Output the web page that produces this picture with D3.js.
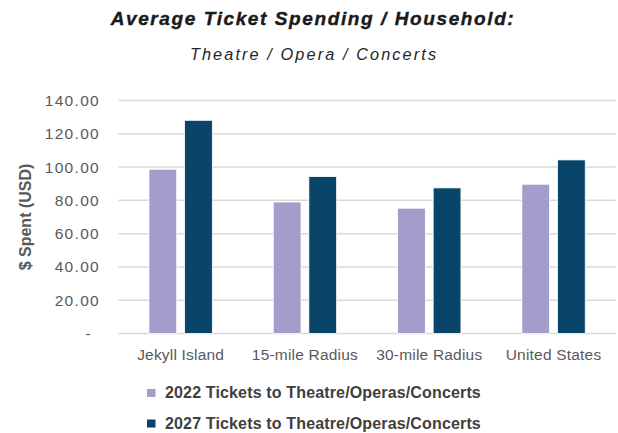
<!DOCTYPE html>
<html>
<head>
<meta charset="utf-8">
<script src="https://cdn.jsdelivr.net/npm/d3@7"></script>
<style>
  html, body { margin: 0; padding: 0; background: #fff; }
  svg { display: block; }
</style>
</head>
<body>
<svg id="chart" width="618" height="433"></svg>
<script>
// Categories, series and tick values
const categories = ["Jekyll Island", "15-mile Radius", "30-mile Radius", "United States"];
const seriesNames = ["2022 Tickets to Theatre/Operas/Concerts", "2027 Tickets to Theatre/Operas/Concerts"];
const values2022 = [98.7, 79.0, 75.3, 89.7];
const values2027 = [128.1, 94.3, 87.5, 104.3];
const yTicks = [0, 20, 40, 60, 80, 100, 120, 140];
const colors = ["#A39DCC", "#084569"];

const svg = d3.select("#chart");
const font = "'Liberation Sans', Arial, sans-serif";

const margin = { left: 118.5, right: 2.3, top: 100.5, bottom: 99.5 };
const W = 618, H = 433;

const x0 = d3.scaleBand()
  .domain(categories)
  .range([margin.left, W - margin.right])
  .paddingInner(0.49)
  .paddingOuter(0.245);

const x1 = d3.scaleBand()
  .domain([0, 1])
  .range([0, x0.bandwidth()])
  .paddingInner(0.22);

const y = d3.scaleLinear()
  .domain([0, 140])
  .range([H - margin.bottom, margin.top]);

// Titles
svg.append("text")
  .attr("x", 313).attr("y", 25)
  .attr("text-anchor", "middle")
  .attr("font-family", font)
  .attr("font-size", 19)
  .attr("font-weight", "bold")
  .attr("font-style", "italic")
  .attr("letter-spacing", 1.6)
  .attr("stroke", "#1a1a1a")
  .attr("stroke-width", 0.4)
  .attr("fill", "#1a1a1a")
  .text("Average Ticket Spending / Household:");

svg.append("text")
  .attr("x", 314).attr("y", 60)
  .attr("text-anchor", "middle")
  .attr("font-family", font)
  .attr("font-size", 16.3)
  .attr("font-style", "italic")
  .attr("letter-spacing", 2.1)
  .attr("fill", "#262626")
  .text("Theatre / Opera / Concerts");

// Gridlines
const grid = svg.append("g");
grid.selectAll("line")
  .data(yTicks)
  .join("line")
  .attr("x1", margin.left)
  .attr("x2", W - margin.right)
  .attr("y1", d => y(d))
  .attr("y2", d => y(d))
  .attr("stroke", "#D9D9D9")
  .attr("stroke-width", 1.5);

// Y axis labels
const yAxis = d3.axisLeft(y)
  .tickValues(yTicks)
  .tickSize(0)
  .tickPadding(0)
  .tickFormat(d => d === 0 ? "-" : d3.format(".2f")(d));

const yg = svg.append("g")
  .attr("transform", `translate(${100},0)`)
  .call(yAxis);
yg.select(".domain").remove();
yg.selectAll("text")
  .attr("font-family", font)
  .attr("font-size", 15.5)
  .attr("letter-spacing", 1.3)
  .attr("fill", "#595959");
yg.selectAll(".tick").filter(d => d === 0).select("text").attr("x", -8);

// Y axis title
svg.append("text")
  .attr("transform", `translate(31,${(y(0) + y(140)) / 2}) rotate(-90)`)
  .attr("text-anchor", "middle")
  .attr("font-family", font)
  .attr("font-size", 16)
  .attr("font-weight", "bold")
  .attr("fill", "#595959")
  .text("$ Spent (USD)");

// Bars
const rows = categories.map((c, i) => ({ cat: c, vals: [values2022[i], values2027[i]] }));
const groups = svg.append("g").selectAll("g")
  .data(rows)
  .join("g")
  .attr("transform", d => `translate(${x0(d.cat)},0)`);

groups.selectAll("rect")
  .data(d => d.vals.map((v, k) => ({ k, v })))
  .join("rect")
  .attr("x", d => x1(d.k))
  .attr("width", x1.bandwidth())
  .attr("y", d => y(d.v))
  .attr("height", d => y(0) - y(d.v))
  .attr("fill", d => colors[d.k])
  .attr("stroke", "#ffffff")
  .attr("stroke-width", 0.8);

// X axis labels
const xAxis = d3.axisBottom(x0).tickSize(0).tickPadding(0);
const xg = svg.append("g")
  .attr("transform", `translate(0,${y(0) + 15})`)
  .call(xAxis);
xg.select(".domain").remove();
xg.selectAll("text")
  .attr("font-family", font)
  .attr("font-size", 15.5)
  .attr("letter-spacing", 0.2)
  .attr("fill", "#595959");

// Legend
const legend = svg.append("g");
const legendRows = legend.selectAll("g")
  .data(seriesNames)
  .join("g")
  .attr("transform", (d, i) => `translate(147,${389 + i * 30.5})`);
legendRows.append("rect")
  .attr("width", 8.5).attr("height", 8)
  .attr("fill", (d, i) => colors[i]);
legendRows.append("text")
  .attr("x", 18).attr("y", 9)
  .attr("font-family", font)
  .attr("font-size", 16)
  .attr("font-weight", "bold")
  .attr("letter-spacing", 0.15)
  .attr("fill", "#404040")
  .text(d => d);
</script>
</body>
</html>
